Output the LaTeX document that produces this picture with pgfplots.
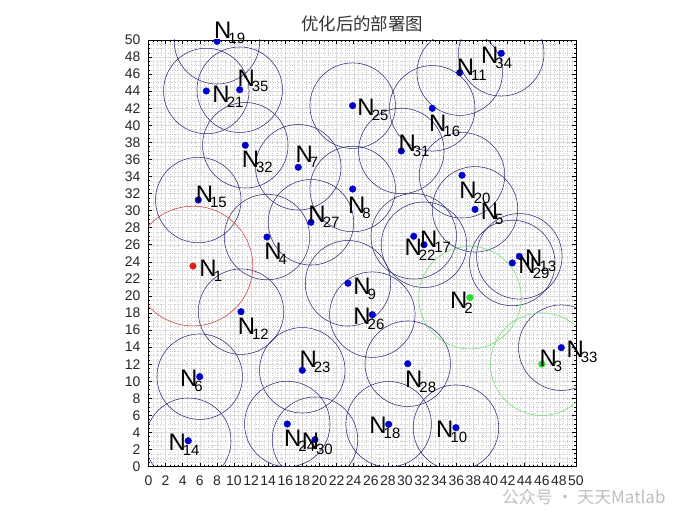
\documentclass[border=0pt]{standalone}
\usepackage{pgfplots}
\pgfplotsset{compat=1.18}
\usepackage{pgfplotstable}
\usepackage{fontspec}
\setmainfont{Liberation Sans}
\newfontfamily\cjk{Noto Sans CJK SC}
\definecolor{circ}{RGB}{45,45,120}
\definecolor{dotb}{RGB}{0,0,205}
\definecolor{redc}{RGB}{205,60,60}
\definecolor{redd}{RGB}{225,30,30}
\definecolor{greenc}{RGB}{110,220,110}
\definecolor{greend}{RGB}{40,220,40}
\newcommand{\Nl}[1]{\fontsize{24}{24}\selectfont N\kern-3bp\raisebox{-5bp}{\fontsize{15}{15}\selectfont #1}}

\pgfplotstableread{
x y
37.6 19.8
}\greenA
\pgfplotstableread{
x y
46.0 12.0
}\greenB
\pgfplotstableread{
x y
5.2 23.5
}\rednode
\pgfplotstableread{
x y
13.86 26.9
38.19 30.15
5.99 10.53
17.52 35.08
23.88 32.53
23.33 21.48
35.96 4.55
36.4 46.17
10.82 18.15
43.37 24.64
4.65 3.02
5.82 31.24
33.19 41.99
32.22 26.0
28.09 4.95
8.01 49.85
36.67 34.14
6.76 44.02
31.02 26.99
17.99 11.28
16.23 4.98
23.88 42.3
26.18 17.8
19.0 28.63
30.32 12.05
42.55 23.86
19.47 3.14
29.57 36.99
11.32 37.66
48.28 13.93
41.26 48.44
10.67 44.17
}\bluenodes

\begin{document}
\begin{tikzpicture}
\path[use as bounding box] (-148.5bp,-58.5bp) rectangle (551.5bp,466.5bp);
\begin{axis}[
  at={(0,0)}, anchor=south west,
  x=8.55bp, y=8.53bp,
  xmin=0, xmax=50, ymin=0, ymax=50,
  xtick distance=2, ytick distance=2,
  minor tick num=3,
  grid=both,
  major grid style={gray!28, line width=0.4bp},
  minor grid style={gray!40, dotted, line width=0.35bp},
  tick align=inside,
  major tick length=4bp, minor tick length=2bp,
  tick style={black, line width=0.5bp},
  axis line style={black, line width=0.6bp},
  /pgf/number format/assume math mode=true,
  ticklabel style={font=\fontsize{14}{14}\selectfont, inner sep=0pt, text=black!85},
  xticklabel style={yshift=-9bp},
  yticklabel style={xshift=-8bp},
  clip mode=individual,
  clip marker paths=true,
]
\addplot[only marks, mark=o, mark size=42.75bp, mark options={draw=circ, line width=0.55bp, fill=none}] table {\bluenodes};
\addplot[only marks, mark=o, mark size=59.85bp, mark options={draw=redc, line width=0.55bp, fill=none}] table {\rednode};
\addplot[only marks, mark=o, mark size=51.3bp, mark options={draw=greenc, line width=0.55bp, fill=none}] table {\greenA};
\addplot[only marks, mark=o, mark size=51.3bp, mark options={draw=greenc, line width=0.55bp, fill=none}] table {\greenB};
\addplot[only marks, mark=*, mark size=3.3bp, mark options={draw=dotb, fill=dotb}] table {\bluenodes};
\addplot[only marks, mark=*, mark size=3.3bp, mark options={draw=redd, fill=redd}] table {\rednode};
\addplot[only marks, mark=*, mark size=3.3bp, mark options={draw=greend, fill=greend}] table {\greenA};
\addplot[only marks, mark=*, mark size=3.3bp, mark options={draw=greend, fill=greend}] table {\greenB};
\begin{scope}[every node/.style={anchor=base west, inner sep=0pt, text=black}]
\node at (axis cs:5.94,22.33) {\Nl{1}};
\node at (axis cs:35.26,18.55) {\Nl{2}};
\node at (axis cs:45.73,11.78) {\Nl{3}};
\node at (axis cs:13.54,24.29) {\Nl{4}};
\node at (axis cs:38.85,28.9) {\Nl{5}};
\node at (axis cs:3.68,9.36) {\Nl{6}};
\node at (axis cs:17.17,35.62) {\Nl{7}};
\node at (axis cs:23.33,29.68) {\Nl{8}};
\node at (axis cs:23.95,20.22) {\Nl{9}};
\node at (axis cs:33.63,3.38) {\Nl{10}};
\node at (axis cs:36.05,45.78) {\Nl{11}};
\node at (axis cs:10.43,15.42) {\Nl{12}};
\node at (axis cs:44.04,23.42) {\Nl{13}};
\node at (axis cs:2.32,1.85) {\Nl{14}};
\node at (axis cs:5.52,30.97) {\Nl{15}};
\node at (axis cs:32.81,39.33) {\Nl{16}};
\node at (axis cs:31.75,25.7) {\Nl{17}};
\node at (axis cs:25.82,3.89) {\Nl{18}};
\node at (axis cs:7.66,50.12) {\Nl{19}};
\node at (axis cs:36.35,31.44) {\Nl{20}};
\node at (axis cs:7.46,42.65) {\Nl{21}};
\node at (axis cs:29.92,24.68) {\Nl{22}};
\node at (axis cs:17.64,11.63) {\Nl{23}};
\node at (axis cs:15.85,2.32) {\Nl{24}};
\node at (axis cs:24.42,41.09) {\Nl{25}};
\node at (axis cs:23.95,16.59) {\Nl{26}};
\node at (axis cs:18.69,28.58) {\Nl{27}};
\node at (axis cs:30.0,9.28) {\Nl{28}};
\node at (axis cs:43.25,22.65) {\Nl{29}};
\node at (axis cs:17.92,2.02) {\Nl{30}};
\node at (axis cs:29.22,36.91) {\Nl{31}};
\node at (axis cs:10.9,35.03) {\Nl{32}};
\node at (axis cs:48.87,12.72) {\Nl{33}};
\node at (axis cs:38.89,47.27) {\Nl{34}};
\node at (axis cs:10.39,44.53) {\Nl{35}};
\end{scope}
\end{axis}
\node[font=\cjk\fontsize{17.5}{17.5}\selectfont, text=black!80] at (213.75bp,443bp) {优化后的部署图};
\node[anchor=west, font=\cjk\fontsize{17}{17}\selectfont, text=black!25] at (350bp,-30.5bp) {公众号 · 天天Matlab};
\end{tikzpicture}
\end{document}
